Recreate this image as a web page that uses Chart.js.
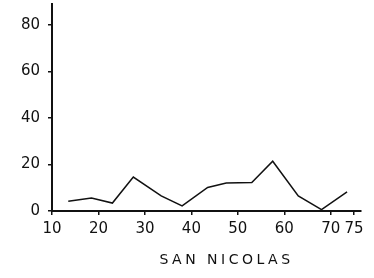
<!DOCTYPE html>
<html>
<head>
<meta charset="utf-8">
<script src="https://cdn.jsdelivr.net/npm/chart.js@4"></script>
<style>
  body { margin: 0; background: #fff; }
  canvas { display: block; }
</style>
</head>
<body>
<canvas id="chart1" width="374" height="278"></canvas>
<script>
// data
const ages = [13.5, 18.5, 23, 27.5, 33.5, 38, 43.5, 47.5, 53, 57.5, 63, 68, 73.5];
const values = [4.2, 5.6, 3.4, 14.6, 6.5, 2.2, 10.1, 12.0, 12.2, 21.4, 6.5, 0.6, 8.2];
const xTicks = [10, 20, 30, 40, 50, 60, 70, 75];
const yTicks = [0, 20, 40, 60, 80];
const xTitle = 'SAN NICOLAS';

const ctx1 = document.getElementById('chart1').getContext('2d');

// titre de l'axe x avec espacement des lettres
const titlePlugin = {
    id: 'spacedTitle',
    afterDraw(chart) {
        const c = chart.ctx;
        const area = chart.chartArea;
        c.save();
        c.font = '14px "DejaVu Sans"';
        c.letterSpacing = '3.5px';
        c.fillStyle = '#111';
        c.textAlign = 'center';
        c.textBaseline = 'middle';
        c.fillText(xTitle, (area.left + area.right) / 2 + 20, 260);
        c.restore();
    }
};

const chart1 = new Chart(ctx1, {
    type: 'line',
    data: {
        datasets: [{
            data: ages.map((a, i) => ({ x: a, y: values[i] })),
            borderColor: '#111',
            borderWidth: 1.5,
            pointRadius: 0,
            tension: 0,
            fill: false
        }]
    },
    options: {
        responsive: false,
        animation: false,
        layout: { padding: { top: 4, right: 13, left: 0, bottom: 0 } },
        plugins: { legend: { display: false }, tooltip: { enabled: false } },
        scales: {
            x: {
                type: 'linear',
                min: 10,
                max: 76.5,
                afterBuildTicks: s => { s.ticks = xTicks.map(v => ({ value: v })); },
                afterFit: s => { s.height = 67; s.paddingLeft = 0; s.paddingRight = 0; },
                grid: { drawOnChartArea: false, tickLength: 4, color: '#111', lineWidth: 1.5 },
                border: { color: '#111', width: 2 },
                ticks: {
                    color: '#111',
                    padding: 5,
                    maxRotation: 0,
                    autoSkip: false,
                    font: { family: 'DejaVu Sans', size: 15 }
                }
            },
            y: {
                min: 0,
                max: 89,
                afterBuildTicks: s => { s.ticks = yTicks.map(v => ({ value: v })); },
                afterFit: s => { s.width = 52; s.paddingTop = 0; s.paddingBottom = 0; },
                grid: { drawOnChartArea: false, tickLength: 4, color: '#111', lineWidth: 1.5 },
                border: { color: '#111', width: 2 },
                ticks: {
                    color: '#111',
                    padding: 8,
                    font: { family: 'DejaVu Sans', size: 15 }
                }
            }
        }
    },
    plugins: [titlePlugin]
});
</script>
</body>
</html>
